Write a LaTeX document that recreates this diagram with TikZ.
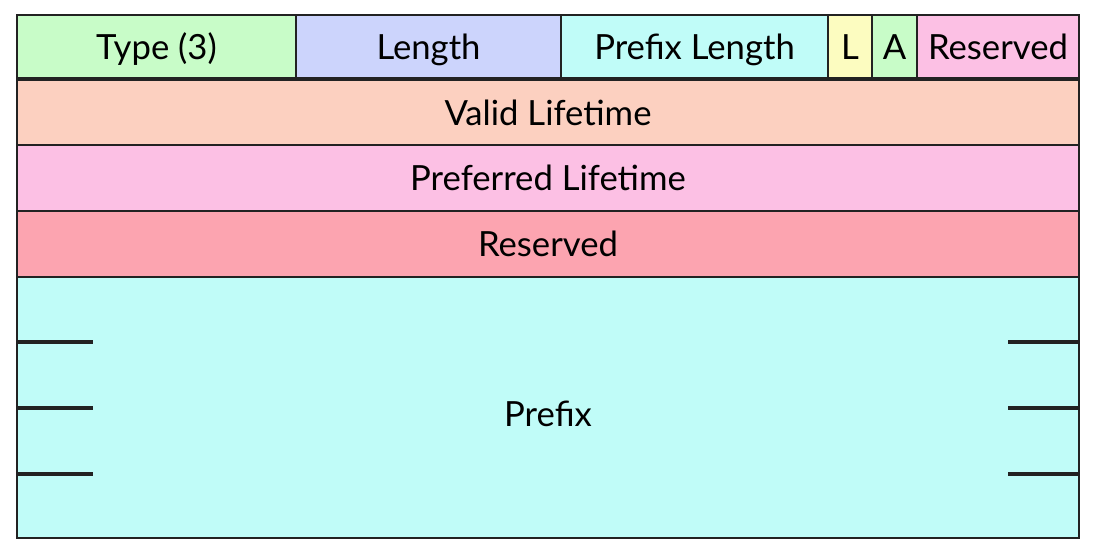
\documentclass[tikz,border=0pt]{standalone}
\usepackage{fontspec}
\setmainfont{Lato}
\definecolor{cgreen}{HTML}{C8FCC8}
\definecolor{cblue}{HTML}{CCD4FC}
\definecolor{ccyan}{HTML}{C0FCF8}
\definecolor{cyellow}{HTML}{FCFCC0}
\definecolor{cpink}{HTML}{FCC0E4}
\definecolor{csalmon}{HTML}{FCD0C0}
\definecolor{cred}{HTML}{FCA4B0}
\definecolor{cline}{HTML}{222222}
\tikzset{
  fieldbox/.style={draw=cline, line width=1.4pt, inner sep=0pt, outer sep=0pt, anchor=north west,
    font=\fontsize{26}{30}\selectfont, text height=24pt, text depth=5.2pt},
  tick/.style={draw=cline, line width=2.4pt}
}
\newcommand{\fieldrect}[7]{%
  \node[fieldbox, fill=#6, minimum width={(#4-#2)*0.75pt}, minimum height={(#5-#3)*0.75pt}] (#1) at (#2,#3) {#7};}
\begin{document}
\begin{tikzpicture}[x=0.75pt,y=-0.75pt]
\useasboundingbox (0,0) rectangle (1098,549);
\fieldrect{type}{17}{15}{296}{78}{cgreen}{Type (3)}
\fieldrect{len}{296}{15}{561}{78}{cblue}{Length}
\fieldrect{plen}{561}{15}{828}{78}{ccyan}{Prefix Length}
\fieldrect{lflag}{828}{15}{872}{78}{cyellow}{L}
\fieldrect{aflag}{872}{15}{917}{78}{cgreen}{A}
\fieldrect{res1}{917}{15}{1079}{78}{cpink}{Reserved}
\fieldrect{valid}{17}{80}{1079}{145}{csalmon}{Valid Lifetime}
\fieldrect{pref}{17}{145}{1079}{211}{cpink}{Preferred Lifetime}
\fieldrect{res2}{17}{211}{1079}{277}{cred}{Reserved}
\node[fieldbox, fill=ccyan, text height=34pt, minimum width={1062*0.75pt}, minimum height={261*0.75pt}] (prefix) at (17,277) {Prefix};
\coordinate (l1) at (93,342); \coordinate (l2) at (93,408); \coordinate (l3) at (93,474);
\coordinate (r1) at (1008,342); \coordinate (r2) at (1008,408); \coordinate (r3) at (1008,474);
\draw[tick] (prefix.west |- l1) -- (l1);
\draw[tick] (prefix.west |- l2) -- (l2);
\draw[tick] (prefix.west |- l3) -- (l3);
\draw[tick] (prefix.east |- r1) -- (r1);
\draw[tick] (prefix.east |- r2) -- (r2);
\draw[tick] (prefix.east |- r3) -- (r3);
\end{tikzpicture}
\end{document}
